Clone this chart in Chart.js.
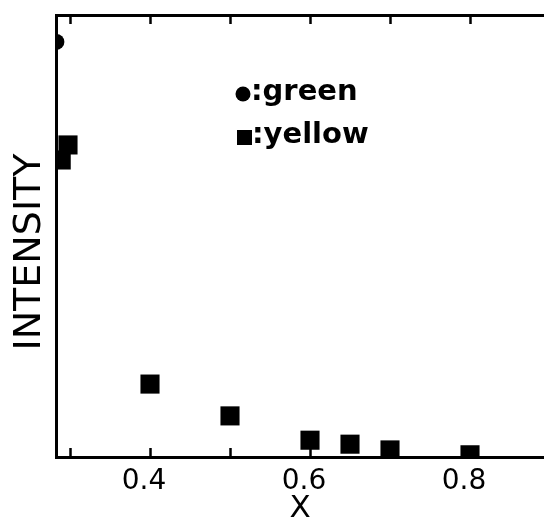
<!DOCTYPE html>
<html>
<head>
<meta charset="utf-8">
<script src="https://cdn.jsdelivr.net/npm/chart.js"></script>
<style>
  html, body { margin: 0; padding: 0; background: #fff; }
</style>
</head>
<body>
<canvas id="myChart" width="544" height="522"></canvas>
<script>
// values (intensity in arbitrary units, 0..1 of the axis)
const greenX = [0.283];
const greenY = [0.939];
const yellowX = [0.289, 0.2975, 0.40, 0.50, 0.60, 0.65, 0.70, 0.80];
const yellowY = [0.672, 0.706, 0.165, 0.093, 0.038, 0.029, 0.016, 0.005];
const xTicks = [0.3, 0.4, 0.5, 0.6, 0.7, 0.8];
const xTickLabels = ['', '0.4', '', '0.6', '', '0.8'];

const FONT = '"DejaVu Sans", "Liberation Sans", sans-serif';

const toPoints = (xs, ys) => xs.map((x, i) => ({ x: x, y: ys[i] }));

// the figure's key sits inside the plot; the y title sits a bit below centre
const textPlugin = {
  id: 'insideKey',
  afterDraw(chart) {
    const { ctx, chartArea } = chart;
    const x0 = chartArea.left + 187;
    const y0 = chartArea.top + 79;
    ctx.save();
    ctx.fillStyle = '#000';
    ctx.beginPath();
    ctx.arc(x0, y0, 7.5, 0, Math.PI * 2);
    ctx.fill();
    ctx.fillRect(x0 - 6, y0 + 36, 15, 15);
    ctx.font = 'bold 29px ' + FONT;
    ctx.textBaseline = 'middle';
    ctx.fillText(':green', x0 + 8, y0 - 2);
    ctx.fillText(':yellow', x0 + 9, y0 + 41);

    // y axis title
    ctx.translate(28, (chartArea.top + chartArea.bottom) / 2 + 16);
    ctx.rotate(-Math.PI / 2);
    ctx.font = '38px ' + FONT;
    ctx.textAlign = 'center';
    ctx.textBaseline = 'middle';
    ctx.fillText('INTENSITY', 0, 2);
    ctx.restore();
  }
};

const inwardGrid = {
  display: true,
  color: 'transparent',
  drawOnChartArea: false,
  tickColor: '#000',
  tickLength: -9,
  tickWidth: 2.5
};

const noSidePadding = s => { s.paddingLeft = 0; s.paddingRight = 0; };

new Chart(document.getElementById('myChart').getContext('2d'), {
  type: 'scatter',
  data: {
    datasets: [
      {
        label: 'green',
        data: toPoints(greenX, greenY),
        pointStyle: 'circle',
        pointRadius: 8,
        pointHoverRadius: 8,
        backgroundColor: '#000',
        borderColor: '#000',
        borderWidth: 0,
        clip: 0
      },
      {
        label: 'yellow',
        data: toPoints(yellowX, yellowY),
        pointStyle: 'rect',
        pointRadius: 13.5,
        pointHoverRadius: 13.5,
        backgroundColor: '#000',
        borderColor: '#000',
        borderWidth: 0,
        clip: 0
      }
    ]
  },
  options: {
    responsive: false,
    animation: false,
    layout: { padding: 0, autoPadding: false },
    plugins: {
      legend: { display: false },
      tooltip: { enabled: false }
    },
    scales: {
      x: {
        type: 'linear',
        position: 'bottom',
        min: 0.2825,
        max: 0.8925,
        afterBuildTicks: s => { s.ticks = xTicks.map(v => ({ value: v })); },
        afterFit: s => { s.height = 65; noSidePadding(s); },
        border: { display: true, color: '#000', width: 3 },
        grid: inwardGrid,
        ticks: {
          color: '#000',
          font: { family: FONT, size: 28 },
          padding: 17,
          labelOffset: -6,
          maxRotation: 0,
          autoSkip: false,
          callback: (v, i) => xTickLabels[i]
        },
        title: {
          display: true,
          text: 'X',
          color: '#000',
          font: { family: FONT, size: 31 },
          padding: { top: 0, bottom: -6 }
        }
      },
      xTop: {
        type: 'linear',
        position: 'top',
        min: 0.2825,
        max: 0.8925,
        afterBuildTicks: s => { s.ticks = xTicks.map(v => ({ value: v })); },
        afterFit: s => { s.height = 15; noSidePadding(s); },
        border: { display: true, color: '#000', width: 3 },
        grid: inwardGrid,
        ticks: { display: false }
      },
      y: {
        type: 'linear',
        min: 0,
        max: 1,
        afterFit: s => { s.width = 56; s.paddingTop = 0; s.paddingBottom = 0; },
        border: { display: true, color: '#000', width: 3 },
        grid: { display: false },
        ticks: { display: false }
      }
    }
  },
  plugins: [textPlugin]
});
</script>
</body>
</html>
